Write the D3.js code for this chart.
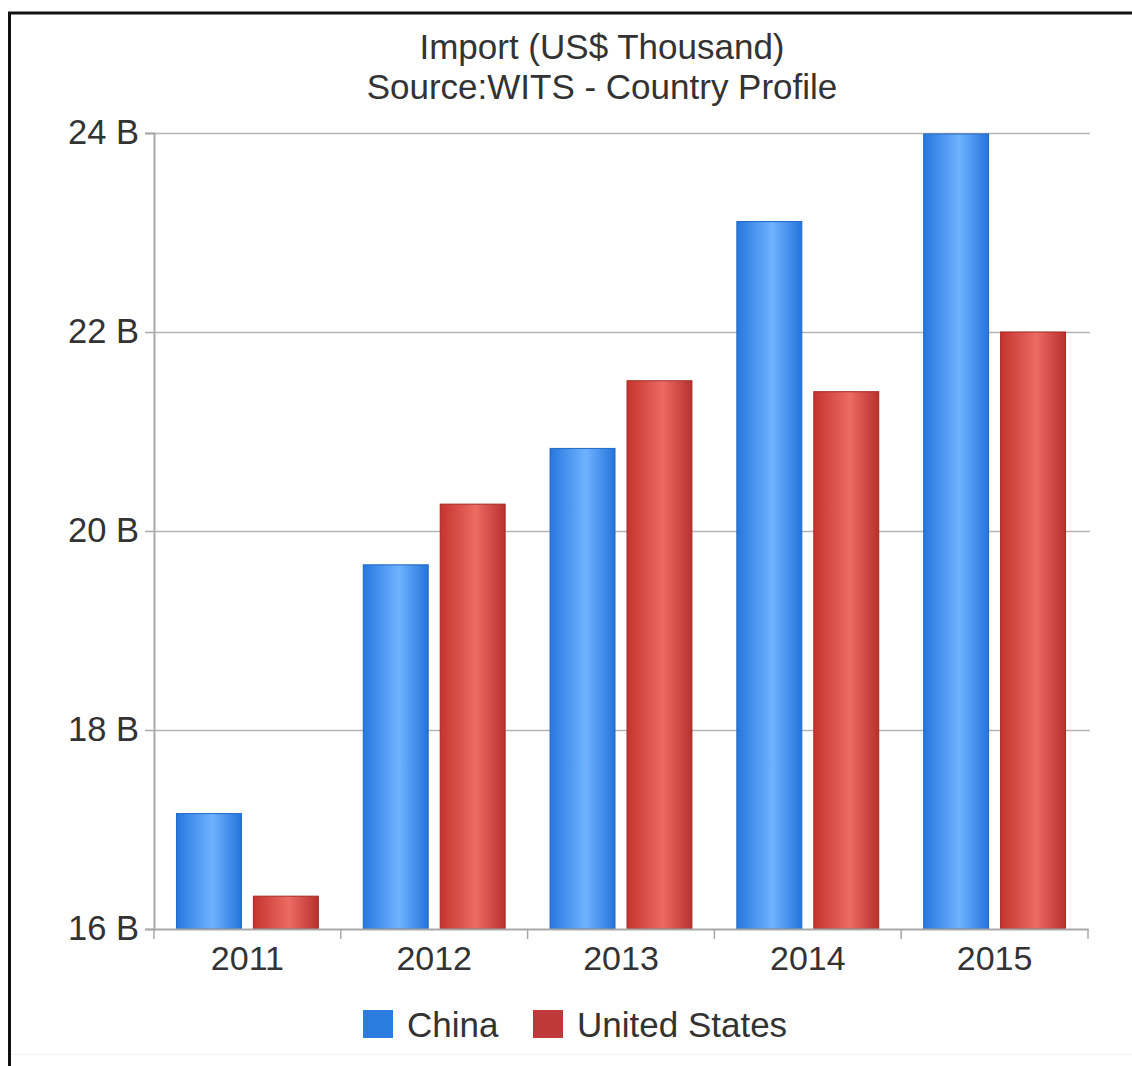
<!DOCTYPE html>
<html>
<head>
<meta charset="utf-8">
<script src="https://cdn.jsdelivr.net/npm/d3@7"></script>
<style>
  html, body { margin: 0; padding: 0; background: #fff; }
  svg { display: block; }
  text { font-family: Arial, "Liberation Sans", sans-serif; fill: #333; }
</style>
</head>
<body>
<svg id="chart" width="1132" height="1066"></svg>
<script>
// Imports by partner, in billions (US$ thousand figures shown as B)
const years = ["2011", "2012", "2013", "2014", "2015"];
const seriesNames = ["China", "United States"];
const china = [17.16, 19.66, 20.83, 23.11, 23.99];
const unitedStates = [16.33, 20.27, 21.51, 21.40, 22.00];
const yTicks = [16, 18, 20, 22, 24];
const titleLines = ["Import (US$ Thousand)", "Source:WITS - Country Profile"];

const seriesValues = [china, unitedStates];
const rows = years.map((yr, i) => ({
  year: yr,
  values: seriesNames.map((name, s) => ({ name, value: seriesValues[s][i] }))
}));

const W = 1132, H = 1066;
const plot = { left: 154, right: 1088, top: 133, bottom: 929 };
const FONT = "Arial, 'Liberation Sans', sans-serif";

const svg = d3.select("#chart");
svg.append("rect").attr("width", W).attr("height", H).attr("fill", "#fff");

// frame
svg.append("line").attr("x1", 8).attr("x2", W).attr("y1", 13).attr("y2", 13)
  .attr("stroke", "#111").attr("stroke-width", 3);
svg.append("line").attr("x1", 9.5).attr("x2", 9.5).attr("y1", 12).attr("y2", H)
  .attr("stroke", "#111").attr("stroke-width", 3);
svg.append("line").attr("x1", 11).attr("x2", W).attr("y1", 1054.5).attr("y2", 1054.5)
  .attr("stroke", "#f3f3f3").attr("stroke-width", 1);

// gradients
const defs = svg.append("defs");
const grads = {
  "China": [["0%", "#2677df"], ["55%", "#6fb3ff"], ["100%", "#2474dc"]],
  "United States": [["0%", "#c5332e"], ["55%", "#ec6b63"], ["100%", "#b9312d"]]
};
const gradId = name => "g-" + name.replace(/\s+/g, "");
Object.entries(grads).forEach(([name, stops]) => {
  const g = defs.append("linearGradient").attr("id", gradId(name))
    .attr("x1", "0%").attr("x2", "100%").attr("y1", "0%").attr("y2", "0%");
  stops.forEach(([o, c]) => g.append("stop").attr("offset", o).attr("stop-color", c));
});
const edgeColor = { "China": "#1f66c4", "United States": "#a22a26" };
const swatchColor = { "China": "#2b7be0", "United States": "#c0393a" };

// scales
const x0 = d3.scaleBand().domain(years).range([plot.left, plot.right]).paddingInner(0).paddingOuter(0);
const x1 = d3.scaleBand().domain(seriesNames).range([0, x0.bandwidth()])
  .paddingInner(0.156).paddingOuter(0.292);
const y = d3.scaleLinear().domain([16, 24]).range([plot.bottom, plot.top]);

// gridlines
svg.append("g").selectAll("line").data(yTicks.filter(t => t !== 16)).join("line")
  .attr("x1", plot.left).attr("x2", plot.right + 2)
  .attr("y1", d => Math.round(y(d)) + 0.5).attr("y2", d => Math.round(y(d)) + 0.5)
  .attr("stroke", "#b4b4b4").attr("stroke-width", 1.5);

// bars
const groups = svg.append("g").selectAll("g").data(rows).join("g")
  .attr("transform", d => `translate(${x0(d.year)},0)`);
groups.selectAll("rect").data(d => d.values).join("rect")
  .attr("x", d => x1(d.name))
  .attr("width", x1.bandwidth())
  .attr("y", d => y(d.value))
  .attr("height", d => y(16) - y(d.value))
  .attr("fill", d => `url(#${gradId(d.name)})`)
  .attr("stroke", d => edgeColor[d.name])
  .attr("stroke-width", 1);

// y axis
const yAxis = d3.axisLeft(y).tickValues(yTicks).tickSize(9).tickPadding(6)
  .tickFormat(d => d + " B");
const gy = svg.append("g").attr("transform", `translate(${plot.left},0)`).call(yAxis);
gy.select(".domain").attr("stroke", "#a8a8a8").attr("stroke-width", 2);
gy.selectAll(".tick line").attr("stroke", "#a8a8a8").attr("stroke-width", 1.5);
gy.selectAll(".tick text").attr("font-size", 34.5).attr("fill", "#333")
  .attr("font-family", FONT).attr("dy", "0.3em");

// x axis
const xAxis = d3.axisBottom(x0).tickSize(0).tickPadding(17);
const gx = svg.append("g").attr("transform", `translate(0,${plot.bottom})`).call(xAxis);
gx.select(".domain").attr("stroke", "#a8a8a8").attr("stroke-width", 2);
gx.selectAll(".tick text").attr("font-size", 34).attr("fill", "#333")
  .attr("font-family", FONT);
// category separators
gx.append("g").selectAll("line").data(years.concat(["end"])).join("line")
  .attr("x1", d => d === "end" ? plot.right : x0(d))
  .attr("x2", d => d === "end" ? plot.right : x0(d))
  .attr("y1", 0).attr("y2", 10)
  .attr("stroke", "#a8a8a8").attr("stroke-width", 1.5);

// title
svg.append("g").selectAll("text").data(titleLines).join("text")
  .attr("x", 602).attr("y", (d, i) => 59 + i * 40)
  .attr("text-anchor", "middle").attr("font-size", 35)
  .text(d => d);

// legend
const legendItems = [
  { name: "China", x: 363 },
  { name: "United States", x: 533 }
];
const lg = svg.append("g").selectAll("g").data(legendItems).join("g")
  .attr("transform", d => `translate(${d.x},1010)`);
lg.append("rect").attr("width", 30).attr("height", 28)
  .attr("fill", d => swatchColor[d.name]);
lg.append("text").attr("x", 44).attr("y", 27).attr("font-size", 35)
  .text(d => d.name);
</script>
</body>
</html>
